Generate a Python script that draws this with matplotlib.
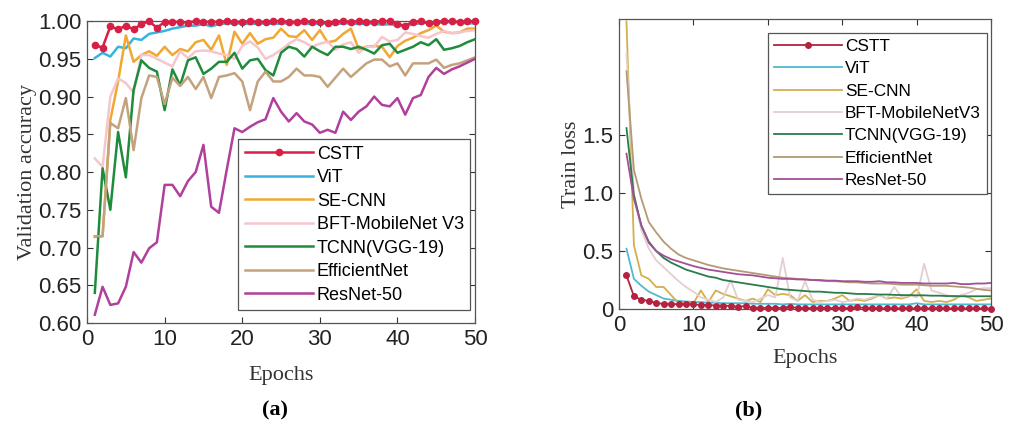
import matplotlib
matplotlib.use('Agg')
import matplotlib.pyplot as plt
import numpy as np

plt.rcParams['font.family'] = ['Liberation Sans', 'DejaVu Sans']

epochs = np.arange(1, 51)
names_a = ['CSTT', 'ViT', 'SE-CNN', 'BFT-MobileNet V3', 'TCNN(VGG-19)', 'EfficientNet', 'ResNet-50']
names_b = ['CSTT', 'ViT', 'SE-CNN', 'BFT-MobileNetV3', 'TCNN(VGG-19)', 'EfficientNet', 'ResNet-50']

# validation accuracy (a)
cstt_acc = [0.968, 0.965, 0.993, 0.989, 0.994, 0.989, 0.996, 1.000, 0.991, 0.999,
            0.999, 0.999, 0.998, 1.000, 0.999, 0.999, 0.999, 1.000, 0.999, 0.999,
            1.000, 0.999, 0.999, 1.000, 1.000, 0.999, 0.999, 1.000, 0.999, 0.999,
            0.998, 0.999, 1.000, 0.999, 1.000, 0.999, 0.999, 1.000, 1.000, 0.996,
            0.994, 0.999, 1.000, 0.997, 0.999, 1.000, 1.000, 0.999, 1.000, 1.000]
vit_acc = [0.951, 0.958, 0.953, 0.966, 0.964, 0.977, 0.975, 0.983, 0.985, 0.987,
           0.990, 0.992, 0.994, 0.994, 0.996, 0.993, 0.996, 0.997, 0.997, 0.997,
           0.996, 0.997, 0.997, 0.996, 0.997, 0.997, 0.998, 0.997, 0.996, 0.997,
           0.997, 0.996, 0.997, 0.997, 0.996, 0.997, 0.997, 0.995, 0.996, 0.994,
           0.993, 0.996, 0.997, 0.998, 0.998, 0.998, 0.999, 0.998, 0.997, 0.997]
secnn_acc = [0.714, 0.715, 0.869, 0.920, 0.981, 0.946, 0.955, 0.960, 0.954, 0.966,
             0.955, 0.963, 0.960, 0.972, 0.975, 0.962, 0.981, 0.942, 0.986, 0.970,
             0.984, 0.970, 0.976, 0.978, 0.990, 0.980, 0.979, 0.988, 0.975, 0.988,
             0.972, 0.974, 0.983, 0.990, 0.963, 0.966, 0.967, 0.966, 0.952, 0.967,
             0.974, 0.978, 0.984, 0.988, 0.994, 0.986, 0.984, 0.985, 0.990, 0.990]
bft_acc = [0.818, 0.807, 0.900, 0.924, 0.918, 0.905, 0.955, 0.955, 0.950, 0.945,
           0.940, 0.960, 0.951, 0.960, 0.961, 0.960, 0.957, 0.955, 0.950, 0.967,
           0.973, 0.965, 0.950, 0.955, 0.962, 0.970, 0.976, 0.972, 0.966, 0.970,
           0.973, 0.962, 0.969, 0.972, 0.958, 0.966, 0.966, 0.979, 0.973, 0.975,
           0.985, 0.983, 0.980, 0.978, 0.983, 0.987, 0.984, 0.985, 0.987, 0.988]
tcnn_acc = [0.640, 0.805, 0.750, 0.853, 0.793, 0.909, 0.948, 0.938, 0.933, 0.882,
            0.936, 0.915, 0.948, 0.952, 0.930, 0.937, 0.946, 0.946, 0.958, 0.937,
            0.948, 0.950, 0.935, 0.928, 0.958, 0.966, 0.963, 0.953, 0.966, 0.960,
            0.955, 0.966, 0.966, 0.963, 0.966, 0.962, 0.957, 0.968, 0.970, 0.958,
            0.962, 0.966, 0.972, 0.968, 0.976, 0.962, 0.964, 0.967, 0.972, 0.976]
eff_acc = [0.715, 0.715, 0.865, 0.858, 0.898, 0.829, 0.898, 0.928, 0.926, 0.890,
           0.925, 0.914, 0.926, 0.910, 0.926, 0.898, 0.926, 0.928, 0.931, 0.920,
           0.882, 0.920, 0.933, 0.920, 0.920, 0.926, 0.937, 0.928, 0.928, 0.926,
           0.913, 0.925, 0.937, 0.926, 0.935, 0.944, 0.949, 0.949, 0.940, 0.944,
           0.928, 0.944, 0.944, 0.944, 0.949, 0.938, 0.942, 0.944, 0.948, 0.952]
res_acc = [0.611, 0.648, 0.624, 0.626, 0.648, 0.694, 0.680, 0.699, 0.707, 0.783,
           0.783, 0.768, 0.788, 0.800, 0.836, 0.754, 0.746, 0.803, 0.858, 0.853,
           0.860, 0.866, 0.870, 0.898, 0.880, 0.867, 0.878, 0.867, 0.863, 0.852,
           0.856, 0.852, 0.880, 0.869, 0.880, 0.887, 0.900, 0.889, 0.887, 0.898,
           0.876, 0.898, 0.902, 0.926, 0.938, 0.930, 0.936, 0.940, 0.945, 0.950]

# train loss (b)
cstt_loss = [0.29, 0.11, 0.08, 0.07, 0.05, 0.045, 0.045, 0.04, 0.04, 0.04,
             0.035, 0.035, 0.03, 0.03, 0.025, 0.02, 0.025, 0.01, 0.01, 0.01,
             0.01, 0.01, 0.02, 0.008, 0.008, 0.008, 0.008, 0.008, 0.008, 0.008,
             0.008, 0.015, 0.008, 0.006, 0.006, 0.006, 0.006, 0.006, 0.006, 0.006,
             0.006, 0.005, 0.005, 0.005, 0.005, 0.005, 0.005, 0.005, 0.005, 0.003]
vit_loss = [0.52, 0.26, 0.20, 0.15, 0.12, 0.09, 0.08, 0.07, 0.065, 0.06,
            0.06, 0.055, 0.055, 0.05, 0.05, 0.05, 0.05, 0.045, 0.045, 0.045,
            0.045, 0.04, 0.045, 0.04, 0.04, 0.04, 0.04, 0.04, 0.04, 0.04,
            0.04, 0.04, 0.04, 0.04, 0.04, 0.04, 0.04, 0.04, 0.04, 0.05,
            0.04, 0.04, 0.04, 0.04, 0.04, 0.04, 0.04, 0.04, 0.04, 0.04]
secnn_loss = [2.48, 0.55, 0.29, 0.26, 0.19, 0.19, 0.12, 0.05, 0.05, 0.05,
              0.16, 0.06, 0.16, 0.13, 0.11, 0.09, 0.07, 0.09, 0.06, 0.17,
              0.12, 0.13, 0.12, 0.07, 0.12, 0.06, 0.07, 0.07, 0.09, 0.12,
              0.07, 0.08, 0.07, 0.09, 0.12, 0.09, 0.10, 0.09, 0.11, 0.17,
              0.07, 0.06, 0.07, 0.06, 0.08, 0.12, 0.10, 0.07, 0.08, 0.09]
bft_loss = [2.20, 1.00, 0.68, 0.52, 0.42, 0.36, 0.30, 0.24, 0.19, 0.15,
            0.10, 0.08, 0.06, 0.10, 0.25, 0.08, 0.07, 0.06, 0.09, 0.12,
            0.10, 0.44, 0.10, 0.07, 0.24, 0.08, 0.06, 0.07, 0.08, 0.06,
            0.07, 0.09, 0.08, 0.10, 0.12, 0.09, 0.19, 0.10, 0.12, 0.10,
            0.39, 0.16, 0.14, 0.12, 0.10, 0.12, 0.14, 0.17, 0.18, 0.18]
tcnn_loss = [1.56, 0.98, 0.72, 0.58, 0.50, 0.44, 0.40, 0.37, 0.34, 0.32,
             0.30, 0.28, 0.27, 0.25, 0.24, 0.23, 0.22, 0.21, 0.20, 0.19,
             0.18, 0.17, 0.165, 0.16, 0.155, 0.15, 0.15, 0.145, 0.14, 0.14,
             0.135, 0.13, 0.13, 0.128, 0.125, 0.125, 0.122, 0.12, 0.12, 0.118,
             0.118, 0.115, 0.115, 0.112, 0.112, 0.11, 0.11, 0.11, 0.11, 0.11]
eff_loss = [2.05, 1.20, 0.95, 0.75, 0.66, 0.58, 0.52, 0.47, 0.44, 0.42,
            0.40, 0.38, 0.365, 0.35, 0.34, 0.33, 0.32, 0.31, 0.30, 0.29,
            0.28, 0.27, 0.265, 0.26, 0.255, 0.25, 0.245, 0.24, 0.24, 0.235,
            0.23, 0.23, 0.225, 0.22, 0.22, 0.22, 0.215, 0.21, 0.21, 0.21,
            0.205, 0.20, 0.20, 0.20, 0.195, 0.19, 0.185, 0.175, 0.165, 0.16]
res_loss = [1.34, 0.95, 0.72, 0.57, 0.50, 0.46, 0.43, 0.41, 0.39, 0.37,
            0.355, 0.34, 0.33, 0.32, 0.31, 0.30, 0.295, 0.29, 0.28, 0.27,
            0.265, 0.26, 0.26, 0.255, 0.255, 0.25, 0.25, 0.245, 0.245, 0.24,
            0.24, 0.24, 0.235, 0.235, 0.24, 0.23, 0.23, 0.225, 0.225, 0.225,
            0.22, 0.22, 0.22, 0.22, 0.225, 0.215, 0.215, 0.22, 0.22, 0.225]

acc = [cstt_acc, vit_acc, secnn_acc, bft_acc, tcnn_acc, eff_acc, res_acc]
loss = [cstt_loss, vit_loss, secnn_loss, bft_loss, tcnn_loss, eff_loss, res_loss]

colors_a = ['#d81f45', '#35b4e0', '#f0a832', '#f5c6cb', '#1f8c3c', '#c4a27e', '#b0409c']
colors_b = ['#b3223f', '#4fbad2', '#d2b04e', '#e2cfd0', '#2a7d4a', '#b39a72', '#a24f98']

fig = plt.figure(figsize=(10.11, 4.44), dpi=100)
ax1 = fig.add_axes([0.0861, 0.2725, 0.3838, 0.680])
ax2 = fig.add_axes([0.6123, 0.304, 0.368, 0.653])

for i in range(7):
    if i == 0:
        ax1.plot(epochs, acc[i], color=colors_a[i], lw=1.8, marker='o', ms=4.5,
                 label=names_a[i], zorder=10, clip_on=False)
    else:
        ax1.plot(epochs, acc[i], color=colors_a[i], lw=1.8, label=names_a[i])

for i in range(7):
    if i == 0:
        ax2.plot(epochs, loss[i], color=colors_b[i], lw=1.3, marker='o', ms=4,
                 label=names_b[i], zorder=10, clip_on=False)
    else:
        ax2.plot(epochs, loss[i], color=colors_b[i], lw=1.3, label=names_b[i])

ax1.set_xlim(0, 50)
ax1.set_ylim(0.6, 1.0)
ax1.set_xticks([0, 10, 20, 30, 40, 50])
ax1.set_yticks(np.arange(0.60, 1.001, 0.05))
ax1.set_yticklabels(['%.2f' % v for v in np.arange(0.60, 1.001, 0.05)])

ax2.set_xlim(0, 50)
ax2.set_ylim(0, 2.5)
ax2.set_xticks([0, 10, 20, 30, 40, 50])
ax2.set_yticks([0, 0.5, 1.0, 1.5])
ax2.set_yticklabels(['0', '0.5', '1.0', '1.5'])

for ax in (ax1, ax2):
    ax.tick_params(direction='in', top=True, right=True, labelsize=16,
                   length=4, color='#333333', labelcolor='#222222', pad=4)
    for sp in ax.spines.values():
        sp.set_color('#555555')
        sp.set_linewidth(0.9)

serif = dict(family='Liberation Serif', fontsize=16, color='#333333')
ax1.set_ylabel('Validation accuracy', labelpad=1, **serif)
ax1.set_xlabel('Epochs', labelpad=12, **serif)
ax2.set_ylabel('Train loss', labelpad=1, **serif)
ax2.set_xlabel('Epochs', labelpad=10, **serif)

leg1 = ax1.legend(loc='lower right', bbox_to_anchor=(0.988, 0.043), fontsize=13,
                  handlelength=3.8, labelspacing=0.36, handletextpad=0.2,
                  borderpad=0.35, fancybox=False, framealpha=1, edgecolor='#555555',
                  borderaxespad=0)
leg1.get_frame().set_linewidth(0.9)
leg2 = ax2.legend(loc='upper right', bbox_to_anchor=(0.989, 0.952), fontsize=12.4,
                  handlelength=3.9, labelspacing=0.42, handletextpad=0.2,
                  borderpad=0.35, fancybox=False, framealpha=1, edgecolor='#555555',
                  borderaxespad=0)
leg2.get_frame().set_linewidth(0.9)

fig.text(0.272, 0.075, '(a)', family='Liberation Serif', fontsize=16, weight='bold',
         ha='center', va='center')
fig.text(0.740, 0.075, '(b)', family='Liberation Serif', fontsize=16, weight='bold',
         ha='center', va='center')

fig.savefig('out.png', dpi=100)
